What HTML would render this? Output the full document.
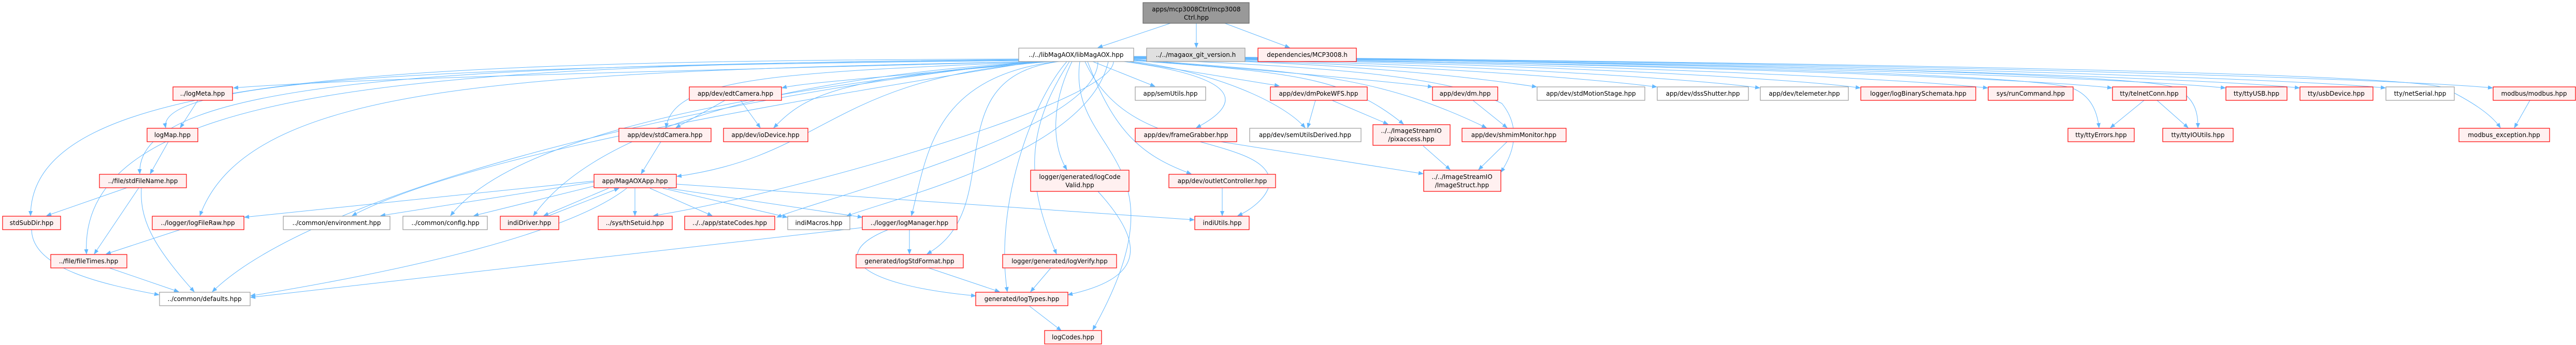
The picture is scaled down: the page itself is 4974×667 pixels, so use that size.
<!DOCTYPE html>
<html><head><meta charset="utf-8"><style>
html,body{margin:0;padding:0;background:#fff;}
svg{display:block;}
text{font-family:"DejaVu Sans","Liberation Sans",sans-serif;font-size:12px;fill:#000;}
.r{fill:#fff0f0;stroke:#ff0000;stroke-width:1.2}
.w{fill:#fff;stroke:#999;stroke-width:1.2}
.g{fill:#e0e0e0;stroke:#999;stroke-width:1.2}
.d{fill:#999;stroke:#666;stroke-width:1.2}
.e path{fill:none;stroke:#63b8ff;stroke-width:1;marker-end:url(#a)}
</style></head><body>
<svg width="4974" height="667" viewBox="0 0 4974 667" xmlns="http://www.w3.org/2000/svg">
<defs><marker id="a" markerWidth="10" markerHeight="8" refX="9" refY="4" orient="auto" markerUnits="userSpaceOnUse"><path d="M0,0 L10,4 L0,8 z" fill="#63b8ff"/></marker></defs>
<g class="e">
<path d="M2260,45 L2120,92"/><path d="M2310,45 L2310,92"/><path d="M2365,45 L2490,92"/>
<path d="M1990,119 C1400,135 700,150 451,170"/>
<path d="M1988,117 C900,128 300,150 320,247"/>
<path d="M1986,116 C900,125 260,150 270,336"/>
<path d="M1984,114 C700,118 60,150 59,417"/>
<path d="M1985,115 C800,125 150,170 167,491"/>
<path d="M1990,119 C1000,140 480,160 386,417"/>
<path d="M1995,119 C1400,180 620,360 410,564"/>
<path d="M2000,119 C1500,200 900,300 680,417"/>
<path d="M2005,119 C1500,170 1000,250 870,417"/>
<path d="M2010,119 C1500,150 1150,250 1030,417"/>
<path d="M2150,119 C2150,200 1500,380 1262,417"/>
<path d="M2120,119 C2120,250 1600,380 1500,420"/>
<path d="M2140,119 C2100,300 1700,390 1635,418"/>
<path d="M2030,119 C1600,150 1600,300 1307,341"/>
<path d="M2015,119 C1500,140 1300,150 1286,247"/>
<path d="M2020,119 C1600,150 1550,190 1494,247"/>
<path d="M2025,119 C1700,150 1550,160 1510,170"/>
<path d="M2040,119 C1800,150 1790,300 1760,417"/>
<path d="M2045,119 C1800,150 1950,400 1790,491"/>
<path d="M2060,119 C1990,200 1920,400 1945,564"/>
<path d="M2085,119 C2060,300 2300,300 2110,638"/>
<path d="M2070,119 C2030,200 2030,280 2060,328"/>
<path d="M2065,119 C1980,250 1980,350 2040,491"/>
<path d="M2110,119 L2230,167"/>
<path d="M2170,119 C2400,150 2400,200 2310,247"/>
<path d="M2100,119 C2150,250 2200,300 2300,336"/>
<path d="M2095,119 C2160,260 2300,260 2400,300 C2500,340 2430,400 2390,417"/>
<path d="M2180,119 L2470,166"/>
<path d="M2189,119 C2350,140 2480,200 2520,247"/>
<path d="M2189,117 C2500,140 2600,150 2710,240"/>
<path d="M2189,116 C2500,140 2700,160 2766,168"/>
<path d="M2189,115 C2500,140 2650,140 2870,247"/>
<path d="M2189,114 C2600,130 2800,150 2900,200 C2940,250 2920,300 2898,333"/>
<path d="M2189,113 C2600,120 2850,150 2967,168"/>
<path d="M2189,113 C2700,122 3050,150 3199,168"/>
<path d="M2189,112 C2800,122 3250,150 3398,170"/>
<path d="M2189,112 C2900,120 3450,150 3592,170"/>
<path d="M2189,111 C3000,120 3650,150 3838,170"/>
<path d="M2189,111 C3100,120 3900,150 4078,170"/>
<path d="M2189,110 C3200,118 4100,150 4297,170"/>
<path d="M2189,110 C3300,118 4250,150 4440,170"/>
<path d="M2189,109 C3400,118 4400,150 4606,170"/>
<path d="M2189,109 C3500,118 4600,150 4813,170"/>
<path d="M2189,112 C3000,120 3900,140 4000,170 C4040,185 4050,220 4053,247"/>
<path d="M2189,111 C3100,118 4150,140 4200,170 C4240,190 4244,220 4244,247"/>
<path d="M2189,110 C3400,118 4650,140 4720,170 C4770,195 4810,220 4828,247"/>
<path d="M382,194 L348,247"/><path d="M325,274 L290,336"/>
<path d="M245,363 L90,417"/><path d="M268,363 L182,491"/>
<path d="M273,363 C270,420 290,470 375,564"/>
<path d="M61,444 C62,520 200,550 307,570"/>
<path d="M348,444 L205,491"/><path d="M208,517 L345,564"/>
<path d="M1400,194 L1305,247"/><path d="M1430,194 L1468,247"/>
<path d="M1276,274 L1238,336"/>
<path d="M1147,352 L735,417"/><path d="M1150,359 L915,417"/>
<path d="M1147,350 L472,420"/>
<path d="M1175,364 L1050,417"/><path d="M1060,417 L1195,364"/>
<path d="M1226,364 L1226,417"/><path d="M1255,364 L1375,417"/>
<path d="M1280,364 L1520,420"/><path d="M1290,364 L1665,420"/>
<path d="M1306,356 L2306,425"/>
<path d="M1210,364 C1100,450 800,520 484,572"/>
<path d="M1665,440 L484,575"/>
<path d="M1756,444 L1756,491"/>
<path d="M1715,444 C1600,490 1650,550 1884,572"/>
<path d="M1790,517 L1930,564"/><path d="M2030,517 L1990,564"/>
<path d="M2120,370 C2220,480 2200,540 2062,570"/>
<path d="M1988,592 L2049,639"/>
<path d="M2360,363 L2360,417"/>
<path d="M2357,274 L2748,336"/>
<path d="M2540,194 L2525,247"/><path d="M2572,194 L2680,240"/>
<path d="M2844,194 L2910,247"/>
<path d="M2748,282 L2800,328"/><path d="M2910,274 L2855,328"/>
<path d="M4140,194 L4075,247"/><path d="M4165,194 L4225,247"/>
<path d="M4885,194 L4855,247"/>
</g>
<g text-anchor="middle">
<rect class="d" x="2207" y="5" width="205" height="40"/><text x="2310" y="22">apps/mcp3008Ctrl/mcp3008</text><text x="2310" y="38">Ctrl.hpp</text>
<rect class="w" x="1967" y="93" width="222" height="26"/><text x="2078" y="110">../../libMagAOX/libMagAOX.hpp</text>
<rect class="g" x="2214" y="93" width="190" height="26"/><text x="2309" y="110">../../magaox_git_version.h</text>
<rect class="r" x="2429" y="93" width="190" height="26"/><text x="2524" y="110">dependencies/MCP3008.h</text>

<rect class="r" x="334" y="168" width="115" height="26"/><text x="391" y="185">../logMeta.hpp</text>
<rect class="r" x="1331" y="168" width="178" height="26"/><text x="1420" y="185">app/dev/edtCamera.hpp</text>
<rect class="w" x="2192" y="168" width="136" height="26"/><text x="2260" y="185">app/semUtils.hpp</text>
<rect class="r" x="2453" y="168" width="187" height="26"/><text x="2546" y="185">app/dev/dmPokeWFS.hpp</text>
<rect class="r" x="2766" y="168" width="126" height="26"/><text x="2829" y="185">app/dev/dm.hpp</text>
<rect class="w" x="2968" y="168" width="208" height="26"/><text x="3072" y="185">app/dev/stdMotionStage.hpp</text>
<rect class="w" x="3200" y="168" width="176" height="26"/><text x="3288" y="185">app/dev/dssShutter.hpp</text>
<rect class="w" x="3399" y="168" width="170" height="26"/><text x="3484" y="185">app/dev/telemeter.hpp</text>
<rect class="r" x="3593" y="168" width="222" height="26"/><text x="3704" y="185">logger/logBinarySchemata.hpp</text>
<rect class="r" x="3839" y="168" width="164" height="26"/><text x="3921" y="185">sys/runCommand.hpp</text>
<rect class="r" x="4079" y="168" width="143" height="26"/><text x="4150" y="185">tty/telnetConn.hpp</text>
<rect class="r" x="4298" y="168" width="118" height="26"/><text x="4357" y="185">tty/ttyUSB.hpp</text>
<rect class="r" x="4441" y="168" width="141" height="26"/><text x="4511" y="185">tty/usbDevice.hpp</text>
<rect class="w" x="4607" y="168" width="132" height="26"/><text x="4673" y="185">tty/netSerial.hpp</text>
<rect class="r" x="4814" y="168" width="159" height="26"/><text x="4893" y="185">modbus/modbus.hpp</text>

<rect class="r" x="284" y="248" width="98" height="26"/><text x="333" y="265">logMap.hpp</text>
<rect class="r" x="1195" y="248" width="178" height="26"/><text x="1284" y="265">app/dev/stdCamera.hpp</text>
<rect class="r" x="1397" y="248" width="163" height="26"/><text x="1478" y="265">app/dev/ioDevice.hpp</text>
<rect class="r" x="2192" y="248" width="196" height="26"/><text x="2290" y="265">app/dev/frameGrabber.hpp</text>
<rect class="w" x="2413" y="248" width="215" height="26"/><text x="2520" y="265">app/dev/semUtilsDerived.hpp</text>
<rect class="r" x="2651" y="241" width="149" height="40"/><text x="2725" y="257">../../ImageStreamIO</text><text x="2725" y="273">/pixaccess.hpp</text>
<rect class="r" x="2823" y="248" width="201" height="26"/><text x="2923" y="265">app/dev/shmimMonitor.hpp</text>
<rect class="r" x="3993" y="248" width="128" height="26"/><text x="4057" y="265">tty/ttyErrors.hpp</text>
<rect class="r" x="4176" y="248" width="136" height="26"/><text x="4244" y="265">tty/ttyIOUtils.hpp</text>
<rect class="r" x="4748" y="248" width="175" height="26"/><text x="4835" y="265">modbus_exception.hpp</text>

<rect class="r" x="192" y="337" width="168" height="26"/><text x="276" y="354">../file/stdFileName.hpp</text>
<rect class="r" x="1147" y="337" width="159" height="26"/><text x="1226" y="354">app/MagAOXApp.hpp</text>
<rect class="r" x="1990" y="329" width="190" height="41"/><text x="2085" y="346">logger/generated/logCode</text><text x="2085" y="362">Valid.hpp</text>
<rect class="r" x="2257" y="337" width="206" height="26"/><text x="2360" y="354">app/dev/outletController.hpp</text>
<rect class="r" x="2749" y="329" width="149" height="41"/><text x="2823" y="346">../../ImageStreamIO</text><text x="2823" y="362">/ImageStruct.hpp</text>

<rect class="r" x="5" y="418" width="112" height="26"/><text x="61" y="435">stdSubDir.hpp</text>
<rect class="r" x="294" y="418" width="177" height="26"/><text x="382" y="435">../logger/logFileRaw.hpp</text>
<rect class="w" x="547" y="418" width="206" height="26"/><text x="650" y="435">../common/environment.hpp</text>
<rect class="w" x="778" y="418" width="163" height="26"/><text x="860" y="435">../common/config.hpp</text>
<rect class="r" x="966" y="418" width="113" height="26"/><text x="1022" y="435">indiDriver.hpp</text>
<rect class="r" x="1155" y="418" width="143" height="26"/><text x="1226" y="435">../sys/thSetuid.hpp</text>
<rect class="r" x="1322" y="418" width="174" height="26"/><text x="1409" y="435">../../app/stateCodes.hpp</text>
<rect class="w" x="1521" y="418" width="120" height="26"/><text x="1581" y="435">indiMacros.hpp</text>
<rect class="r" x="1665" y="418" width="183" height="26"/><text x="1756" y="435">../logger/logManager.hpp</text>
<rect class="r" x="2307" y="418" width="105" height="26"/><text x="2360" y="435">indiUtils.hpp</text>

<rect class="r" x="98" y="492" width="147" height="26"/><text x="171" y="509">../file/fileTimes.hpp</text>
<rect class="r" x="1653" y="492" width="207" height="26"/><text x="1756" y="509">generated/logStdFormat.hpp</text>
<rect class="r" x="1936" y="492" width="220" height="26"/><text x="2046" y="509">logger/generated/logVerify.hpp</text>

<rect class="w" x="308" y="565" width="175" height="26"/><text x="395" y="582">../common/defaults.hpp</text>
<rect class="r" x="1884" y="565" width="178" height="26"/><text x="1973" y="582">generated/logTypes.hpp</text>
<rect class="r" x="2017" y="639" width="110" height="26"/><text x="2072" y="656">logCodes.hpp</text>
</g>
</svg>
</body></html>
